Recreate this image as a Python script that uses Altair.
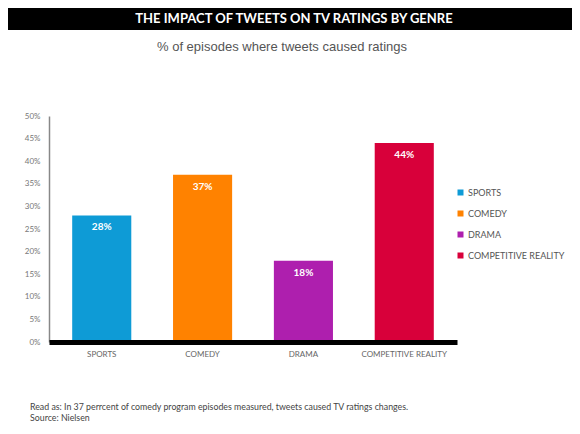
import altair as alt
import pandas as pd

genres = ["SPORTS", "COMEDY", "DRAMA", "COMPETITIVE REALITY"]
values = [28, 37, 18, 44]
colors = ["#0E9BD6", "#FF8200", "#AE1FAE", "#D8003A"]
y_ticks = [0, 5, 10, 15, 20, 25, 30, 35, 40, 45, 50]
title_text = "THE IMPACT OF TWEETS ON TV RATINGS BY GENRE"
subtitle_text = "% of episodes where tweets caused ratings"
footer_lines = [
    "Read as: In 37 perrcent of comedy program episodes measured, tweets caused TV ratings changes.",
    "Source: Nielsen",
]

df = pd.DataFrame({"genre": genres, "value": values, "label": [f"{v}%" for v in values]})

x = alt.X(
    "genre:N", sort=genres,
    scale=alt.Scale(paddingInner=0.414, paddingOuter=0.23),
    axis=alt.Axis(title=None, labelAngle=0, domainColor="black", domainWidth=5,
                  ticks=False, labelFont="Lato", labelFontSize=8, labelColor="#666",
                  labelPadding=8, zindex=1),
)
y = alt.Y(
    "value:Q", scale=alt.Scale(domain=[0, 50]),
    axis=alt.Axis(title=None, values=y_ticks, labelExpr="datum.value + '%'", grid=False,
                  ticks=False, domainColor="#888", domainWidth=1.5, labelFont="Lato",
                  labelFontSize=8, labelColor="#777", labelPadding=9, labelOverlap=False),
)
color = alt.Color(
    "genre:N", sort=genres, scale=alt.Scale(domain=genres, range=colors),
    legend=alt.Legend(title=None, orient="none", legendX=407, legendY=72, symbolType="square",
                      symbolSize=36, symbolStrokeWidth=0, labelFont="Lato", labelFontSize=9,
                      labelColor="#555", rowPadding=11, labelOffset=3, labelLimit=200),
)

base = alt.Chart(df)
bars = base.mark_bar().encode(x=x, y=y, color=color)
labels = base.mark_text(dy=12, color="white", fontSize=10, font="Lato", fontWeight="bold").encode(
    x=x, y=y, text="label:N")

one = pd.DataFrame({"t": [0]})
banner = alt.Chart(one).mark_rect(color="black").encode(
    x=alt.value(-41), x2=alt.value(523), y=alt.value(-108), y2=alt.value(-86))

title = alt.Chart(pd.DataFrame({"t": [title_text]})).mark_text(
    align="center", baseline="middle", font="Lato", fontSize=13, fontWeight="bold",
    color="white").encode(x=alt.value(245), y=alt.value(-97), text="t:N")

subtitle = alt.Chart(pd.DataFrame({"t": [subtitle_text]})).mark_text(
    align="center", baseline="middle", font="Liberation Sans", fontSize=13,
    color="#555").encode(x=alt.value(233), y=alt.value(-69), text="t:N")

footer = alt.Chart(pd.DataFrame({"t": ["\n".join(footer_lines)]})).mark_text(
    align="left", baseline="alphabetic", lineBreak="\n", lineHeight=11, fontSize=8.8,
    font="Lato", color="#444").encode(x=alt.value(-19), y=alt.value(294), text="t:N")

chart = alt.layer(banner, title, subtitle, bars, labels, footer).properties(
    width=408, height=226,
    padding={"left": 41, "top": 108, "right": 115, "bottom": 84},
    autosize=alt.AutoSizeParams(type="none"),
).configure_view(stroke=None)

chart.save("out.html", embed_options={"renderer": "svg", "actions": False})
